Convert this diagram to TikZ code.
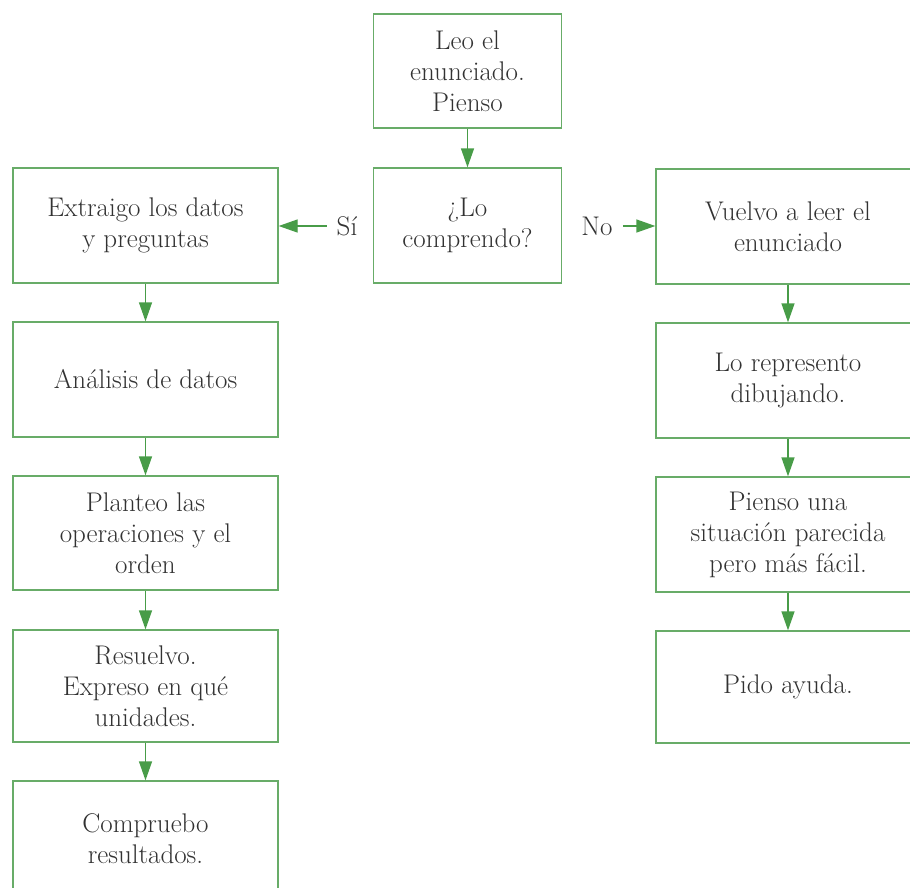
\documentclass[tikz,border=0pt]{standalone}
\usepackage{tikz}
\usetikzlibrary{arrows.meta}
\definecolor{boxColor}{RGB}{104,172,104}
\definecolor{arrowColor}{RGB}{72,156,72}
\definecolor{textColor}{RGB}{50,50,50}
\tikzstyle{chart} = [x = 1pt, y = -1pt]
\tikzstyle{boxStyle} = [draw=boxColor, line width=1.3pt, fill=white, align=center, text=textColor, font=\fontsize{27}{31}\selectfont, inner sep=0pt]
\tikzstyle{arrowStyle} = [draw=arrowColor, line width=1.3pt, -{Triangle[length=19pt, width=13pt]}]
\tikzstyle{answerText} = [font=\fontsize{27}{31}\selectfont, text=textColor, inner sep=10pt]
\newcommand{\stepBox}[6]{\node [boxStyle, minimum width=#4, minimum height=#5] (#1) at (#2,#3) {#6};}
\newcommand{\stepArrow}[2]{\draw [arrowStyle] (#1.south) -- (#2.north);}

\begin{document}
\begin{tikzpicture}[chart]
  \useasboundingbox (0,0) rectangle (910,887);
  \clip (0,0) rectangle (910,887);

  % centre
  \stepBox{leo}{467.5}{71}{188pt}{114pt}{Leo el\\enunciado.\\Pienso}
  \stepBox{comprendo}{467.5}{225.5}{188pt}{115pt}{¿Lo\\comprendo?}
  \stepArrow{leo}{comprendo}

  % left column
  \stepBox{extraigo}{145.5}{225.5}{265pt}{115pt}{Extraigo los datos\\y preguntas}
  \stepBox{analisis}{145.5}{379.5}{265pt}{115pt}{Análisis de datos}
  \stepBox{planteo}{145.5}{533}{265pt}{114pt}{Planteo las\\operaciones y el\\orden}
  \stepBox{resuelvo}{145.5}{686}{265pt}{112pt}{Resuelvo.\\Expreso en qué\\unidades.}
  \stepBox{compruebo}{145.5}{838.5}{265pt}{115pt}{Compruebo\\resultados.}
  \stepArrow{extraigo}{analisis}
  \stepArrow{analisis}{planteo}
  \stepArrow{planteo}{resuelvo}
  \stepArrow{resuelvo}{compruebo}

  % right column
  \stepBox{vuelvo}{788}{226.5}{264pt}{115pt}{Vuelvo a leer el\\enunciado}
  \stepBox{represento}{788}{380.5}{264pt}{115pt}{Lo represento\\dibujando.}
  \stepBox{parecida}{788}{534.5}{264pt}{115pt}{Pienso una\\situación parecida\\pero más fácil.}
  \stepBox{ayuda}{788}{687}{264pt}{112pt}{Pido ayuda.}
  \stepArrow{vuelvo}{represento}
  \stepArrow{represento}{parecida}
  \stepArrow{parecida}{ayuda}

  % answers
  \node [answerText] (si) at (347,226) {Sí};
  \node [answerText] (no) at (597,226) {No};
  \draw [arrowStyle] (si.west) -- (si.west -| extraigo.east);
  \draw [arrowStyle] (no.east) -- (no.east -| vuelvo.west);
\end{tikzpicture}
\end{document}
